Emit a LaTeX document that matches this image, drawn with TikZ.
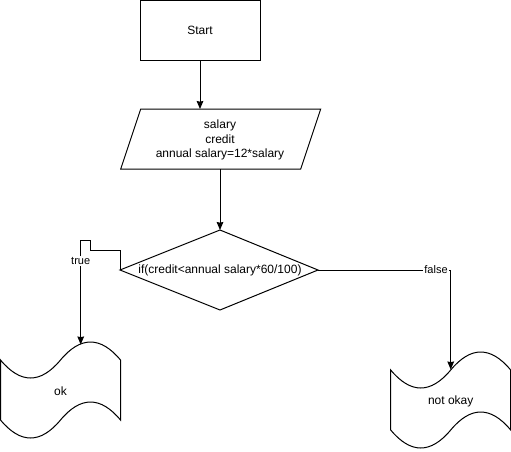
\documentclass[tikz,border=0pt]{standalone}
\usepackage{fontspec}
\setmainfont{Liberation Sans}
\usetikzlibrary{arrows.meta}
\begin{document}
\begin{tikzpicture}[x=0.75pt,y=-0.75pt,line width=0.75pt,
  txt/.style={font=\fontsize{9}{10.9}\selectfont,inner sep=0pt,align=center},
  arr/.style={-{Stealth[length=6pt,width=5pt,inset=0.5pt]}},
  lbl/.style={font=\fontsize{8.25}{9}\selectfont,fill=white,inner sep=0.8pt},
  tape/.style={draw}]
\useasboundingbox (0,0) rectangle (511,451);
% start box
\draw (140,0.5) rectangle (260,60);
\node[txt] (start) at (200,30) {Start};
\coordinate (startS) at (200,60);
% input parallelogram
\draw (140.7,109) -- (320.7,109) -- (300.7,169) -- (120.7,169) -- cycle;
\node[txt] (input) at (220,140) {salary\\credit\\annual salary=12*salary};
\coordinate (inputN) at (200,109);
\coordinate (inputS) at (220,169);
% decision diamond
\draw (220,230) -- (318,270) -- (220,310) -- (120,270) -- cycle;
\node[txt] (dec) at (220,270) {if(credit<annual salary*60/100)};
\coordinate (decN) at (220,230);
\coordinate (decW) at (120,270);
\coordinate (decE) at (318,270);
% tapes
\begin{scope}[shift={(0.5,342)}]
\draw (0,18) .. controls (20,42) and (40,42) .. (60,18) .. controls (80,-6) and (100,-6) .. (120,18) -- (120,78) .. controls (100,54) and (80,54) .. (60,78) .. controls (40,102) and (20,102) .. (0,78) -- cycle;
\end{scope}
\node[txt] (ok) at (60.5,391) {ok};
\coordinate (okN) at (80.7,344.5);
\begin{scope}[shift={(390.7,352)}]
\draw (0,18) .. controls (20,42) and (40,42) .. (60,18) .. controls (80,-6) and (100,-6) .. (120,18) -- (120,78) .. controls (100,54) and (80,54) .. (60,78) .. controls (40,102) and (20,102) .. (0,78) -- cycle;
\end{scope}
\node[txt] (notok) at (450.7,401) {not okay};
\coordinate (notokN) at (450.7,369.5);
% connectors
\draw[arr] (startS) -- (inputN);
\draw[arr] (inputS) -- (decN);
\draw[arr] (decW) -- (120,250) -- (90,250) -- (90,240) -- (80.7,240) -- (okN);
\node[lbl] (truelbl) at (80.7,261) {true};
\draw[arr] (decE) -- (450.7,270) -- (notokN);
\node[lbl] (falselbl) at (436,270) {false};
\end{tikzpicture}
\end{document}
